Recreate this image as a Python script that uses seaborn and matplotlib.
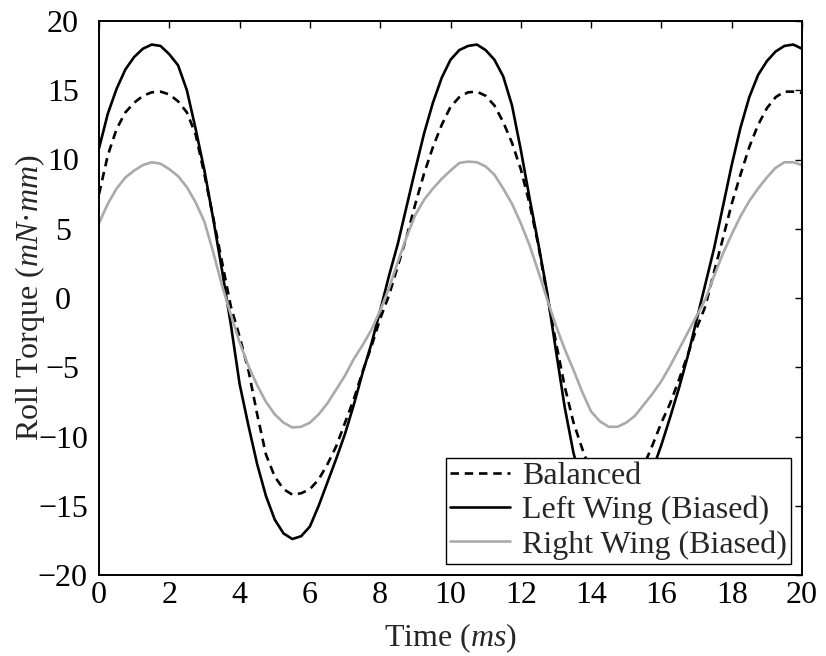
import numpy as np
import pandas as pd
import matplotlib
matplotlib.use("Agg")
import matplotlib.pyplot as plt
import seaborn as sns

time_ms = [0.0, 0.25, 0.5, 0.75, 1.0, 1.25, 1.5, 1.75, 2.0, 2.25,
           2.5, 2.75, 3.0, 3.25, 3.5, 3.75, 4.0, 4.25, 4.5, 4.75,
           5.0, 5.25, 5.5, 5.75, 6.0, 6.25, 6.5, 6.75, 7.0, 7.25,
           7.5, 7.75, 8.0, 8.25, 8.5, 8.75, 9.0, 9.25, 9.5, 9.75,
           10.0, 10.25, 10.5, 10.75, 11.0, 11.25, 11.5, 11.75, 12.0, 12.25,
           12.5, 12.75, 13.0, 13.25, 13.5, 13.75, 14.0, 14.25, 14.5, 14.75,
           15.0, 15.25, 15.5, 15.75, 16.0, 16.25, 16.5, 16.75, 17.0, 17.25,
           17.5, 17.75, 18.0, 18.25, 18.5, 18.75, 19.0, 19.25, 19.5, 19.75,
           20.0]

balanced = [7.5, 10.3, 12.2, 13.4, 14.1, 14.6, 14.85, 14.9, 14.7, 14.2,
            13.4, 11.8, 8.9, 5.8, 2.6, -0.6, -2.8, -5.2, -8.4, -11.3,
            -12.9, -13.8, -14.2, -14.1, -13.8, -13.1, -12.0, -10.7, -9.0, -7.3,
            -5.3, -3.5, -1.5, 0.2, 2.3, 4.4, 6.8, 9.0, 10.9, 12.5,
            13.8, 14.5, 14.85, 14.9, 14.6, 13.9, 12.7, 11.2, 9.3, 6.8,
            3.8, 0.2, -3.2, -6.4, -9.0, -10.9, -12.6, -13.6, -14.1, -14.2,
            -13.9, -13.3, -12.1, -10.6, -9.0, -7.6, -5.9, -4.1, -2.2, -0.6,
            1.9, 4.3, 6.8, 8.9, 10.9, 12.5, 13.7, 14.5, 14.9, 14.9,
            14.8]

left_wing = [10.8, 13.3, 15.1, 16.5, 17.4, 18.0, 18.3, 18.2, 17.6, 16.8,
             15.0, 12.2, 9.2, 5.7, 2.0, -1.9, -6.2, -9.2, -12.0, -14.3,
             -16.0, -17.0, -17.4, -17.2, -16.5, -15.0, -13.3, -11.6, -9.8, -7.7,
             -5.4, -3.3, -0.9, 1.6, 3.9, 6.6, 9.3, 11.9, 14.1, 15.9,
             17.2, 17.9, 18.2, 18.3, 17.9, 17.2, 16.0, 13.9, 10.7, 7.2,
             3.9, 0.4, -3.8, -7.9, -11.2, -13.5, -15.4, -16.7, -17.3, -17.3,
             -16.8, -15.6, -14.0, -12.4, -10.6, -8.6, -6.5, -4.2, -1.6, 1.0,
             3.6, 6.6, 9.6, 12.3, 14.5, 16.1, 17.1, 17.8, 18.2, 18.3,
             18.0]

right_wing = [5.4, 6.8, 7.9, 8.7, 9.2, 9.6, 9.8, 9.7, 9.3, 8.8,
              8.0, 6.9, 5.5, 3.3, 0.9, -1.2, -3.2, -4.9, -6.3, -7.5,
              -8.4, -9.0, -9.35, -9.3, -9.0, -8.4, -7.6, -6.6, -5.6, -4.4,
              -3.4, -2.3, -0.9, 0.7, 2.6, 4.4, 6.0, 7.1, 7.9, 8.6,
              9.2, 9.75, 9.85, 9.8, 9.5, 8.9, 7.9, 6.8, 5.4, 3.8,
              1.9, -0.1, -2.0, -3.7, -5.2, -6.8, -8.2, -8.9, -9.3, -9.3,
              -9.0, -8.5, -7.7, -6.9, -6.0, -4.9, -3.7, -2.5, -1.3, -0.1,
              1.6, 3.2, 4.6, 5.9, 7.0, 7.9, 8.7, 9.4, 9.8, 9.8,
              9.6]

series_labels = ["Balanced", "Left Wing (Biased)", "Right Wing (Biased)"]
x_ticks = [0, 2, 4, 6, 8, 10, 12, 14, 16, 18, 20]
y_ticks = [-20, -15, -10, -5, 0, 5, 10, 15, 20]

sns.set_style("white")
plt.rcParams["font.family"] = ["Liberation Serif", "DejaVu Serif"]
plt.rcParams["mathtext.fontset"] = "custom"
plt.rcParams["mathtext.it"] = "Liberation Serif:italic"
plt.rcParams["mathtext.rm"] = "Liberation Serif"
plt.rcParams["axes.unicode_minus"] = True

FS = 23

fig = plt.figure(figsize=(8.26, 6.56), dpi=100)
ax = fig.add_axes([99 / 826, 1 - 575 / 656, 703 / 826, 554 / 656])

lw = 1.9
sns.lineplot(x=time_ms, y=balanced, ax=ax, color="black", lw=lw,
             linestyle=(0, (3.2, 2.2)), label=series_labels[0])
sns.lineplot(x=time_ms, y=left_wing, ax=ax, color="black", lw=lw,
             label=series_labels[1])
sns.lineplot(x=time_ms, y=right_wing, ax=ax, color="#aaaaaa", lw=lw,
             label=series_labels[2])

ax.set_xlim(0, 20)
ax.set_ylim(-20, 20)
ax.set_xticks(x_ticks)
ax.set_yticks(y_ticks)
ax.set_xticklabels([str(v) for v in x_ticks])
ax.set_yticklabels([str(v).replace("-", "\u2212") for v in y_ticks])

for s in ax.spines.values():
    s.set_visible(True)
    s.set_color("black")
    s.set_linewidth(1.4)

ax.tick_params(axis="both", which="both", direction="in", length=5, width=1.0,
               top=True, right=True, labelsize=FS, colors="black")
ax.tick_params(axis="x", pad=4)
ax.tick_params(axis="y", pad=26)
for lab in ax.get_yticklabels():
    lab.set_ha("center")

ax.set_xlabel(r"Time ($ms$)", fontsize=FS)
ax.set_ylabel(r"Roll Torque ($mN$·$mm$)", fontsize=FS)
ax.xaxis.set_label_coords(0.5, -0.083)
ax.yaxis.set_label_coords(-0.074, 0.5)

leg = ax.legend(loc="lower right", fontsize=FS, frameon=True, fancybox=False,
                framealpha=1, edgecolor="black", borderaxespad=0.36,
                handlelength=1.9, handletextpad=0.36, labelspacing=0.15,
                borderpad=0.12)
leg.get_frame().set_linewidth(1.0)

fig.savefig("out.png", dpi=100)
